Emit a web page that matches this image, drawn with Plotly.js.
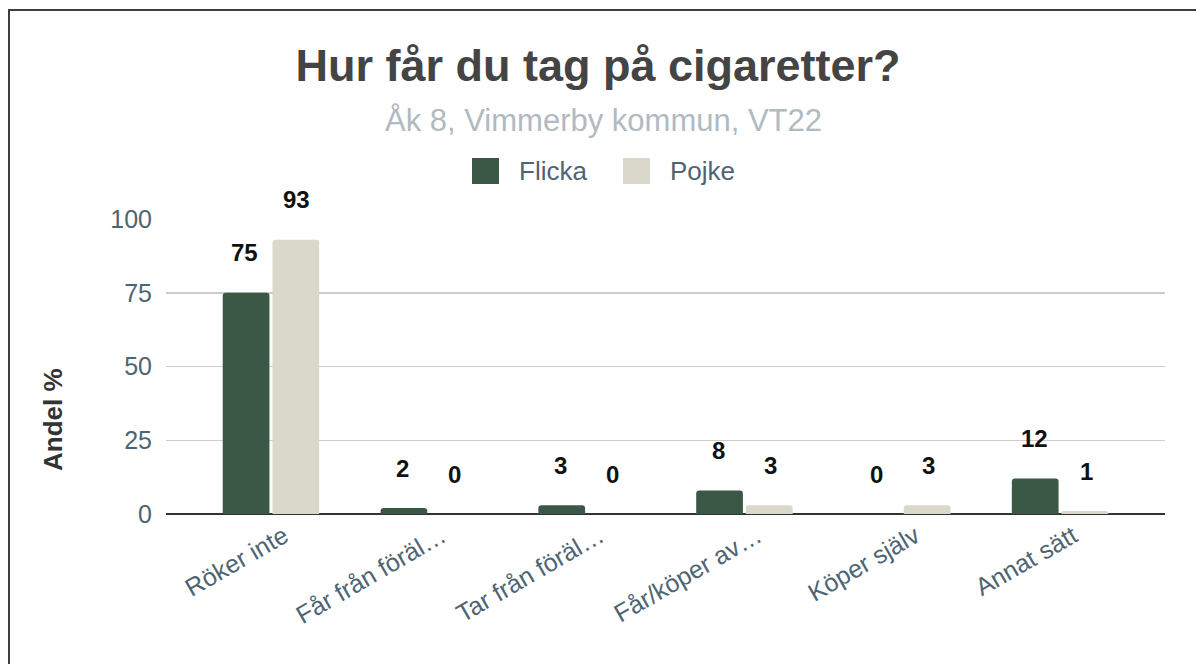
<!DOCTYPE html>
<html>
<head>
<meta charset="utf-8">
<script src="https://cdn.plot.ly/plotly-3.0.1.min.js"></script>
<style>
  html, body { margin:0; padding:0; background:#fff; overflow:hidden; }
  #chart { position:absolute; left:0; top:0; width:1196px; height:664px; }
  #frame { position:absolute; left:8px; top:9px; width:2000px; height:2000px; border:2px solid #3d3d3d; pointer-events:none; }
</style>
</head>
<body>
<div id="chart"></div>
<div id="frame"></div>
<script>
const categories = ["Röker inte", "Får från föräl…", "Tar från föräl…", "Får/köper av…", "Köper själv", "Annat sätt"];
const flicka = [75, 2, 3, 8, 0, 12];
const pojke = [93, 0, 0, 3, 3, 1];
const yTicks = [0, 25, 50, 75, 100];
const seriesNames = ["Flicka", "Pojke"];

const cFlicka = "#3b5846";
const cPojke = "#dad8cb";
const slate = "#4e6473";
const FONT = "Liberation Sans, Arial, sans-serif";

// plot area in pixels (for converting layout positions to paper coords)
const L = 166, R = 1165, T = 219, B = 514;
const px = v => (v - L) / (R - L);
const py = v => (B - v) / (B - T);

const traces = [
  { type:"bar", name:seriesNames[0], x:categories, y:flicka, marker:{color:cFlicka, cornerradius:3}, showlegend:false },
  { type:"bar", name:seriesNames[1], x:categories, y:pojke, marker:{color:cPojke, cornerradius:3}, showlegend:false }
];

const annotations = [];
[[flicka, -26], [pojke, 26]].forEach(([vals, dx]) => {
  vals.forEach((v, i) => {
    annotations.push({
      x: categories[i], y: v, xref:"x", yref:"y",
      text: String(v), showarrow:false,
      xshift: dx, yshift: 40, yanchor:"middle",
      font:{family:FONT, size:24, color:"#111", weight:700}
    });
  });
});
// subtitle
annotations.push({
  xref:"paper", yref:"paper", x:px(603), y:py(121),
  text:"Åk 8, Vimmerby kommun, VT22", showarrow:false, xanchor:"center", yanchor:"middle",
  font:{family:FONT, size:31, color:"#b0bac0"}
});
// y axis title
annotations.push({
  xref:"paper", yref:"paper", x:px(53), y:py(420),
  text:"Andel %", showarrow:false, textangle:-90, xanchor:"center", yanchor:"middle",
  font:{family:FONT, size:26, color:"#333", weight:700}
});
// legend
const legendItems = [
  {name:seriesNames[0], color:cFlicka, x0:472},
  {name:seriesNames[1], color:cPojke, x0:623}
];
const shapes = [];
legendItems.forEach(it => {
  shapes.push({type:"rect", xref:"paper", yref:"paper",
    x0:px(it.x0), x1:px(it.x0 + 27), y0:py(184), y1:py(158),
    fillcolor:it.color, line:{width:0}});
  annotations.push({xref:"paper", yref:"paper", x:px(it.x0 + 45), y:py(171),
    text:it.name, showarrow:false, xanchor:"left", yanchor:"middle",
    font:{family:FONT, size:26, color:slate}});
});

const layout = {
  width:1196, height:664,
  paper_bgcolor:"#fff", plot_bgcolor:"#fff",
  margin:{l:L, r:1196 - R, t:T, b:664 - B},
  title:{
    text:"Hur får du tag på cigaretter?",
    x:0.5, xref:"container", y:1 - 65/664, yref:"container", yanchor:"middle",
    font:{family:FONT, size:45, color:"#444", weight:700}
  },
  barmode:"group", bargap:0.37, bargroupgap:0.06,
  showlegend:false,
  xaxis:{
    type:"category", range:[-0.665, 5.665],
    tickangle:-30, showgrid:false, ticks:"",
    tickfont:{family:FONT, size:25, color:slate},
    ticklabelshift:13, ticklabelstandoff:2,
    showline:false, zeroline:false, fixedrange:true
  },
  yaxis:{
    range:[0, 100], tickvals:yTicks, ticktext:yTicks.map(String),
    showgrid:true, gridcolor:"#cccccc", gridwidth:1.5,
    zeroline:true, zerolinecolor:"#333", zerolinewidth:2,
    tickfont:{family:FONT, size:25, color:slate},
    ticks:"", ticklabelstandoff:13,
    fixedrange:true
  },
  shapes: shapes,
  annotations: annotations
};

Plotly.newPlot("chart", traces, layout, {displayModeBar:false, staticPlot:true});
</script>
</body>
</html>
